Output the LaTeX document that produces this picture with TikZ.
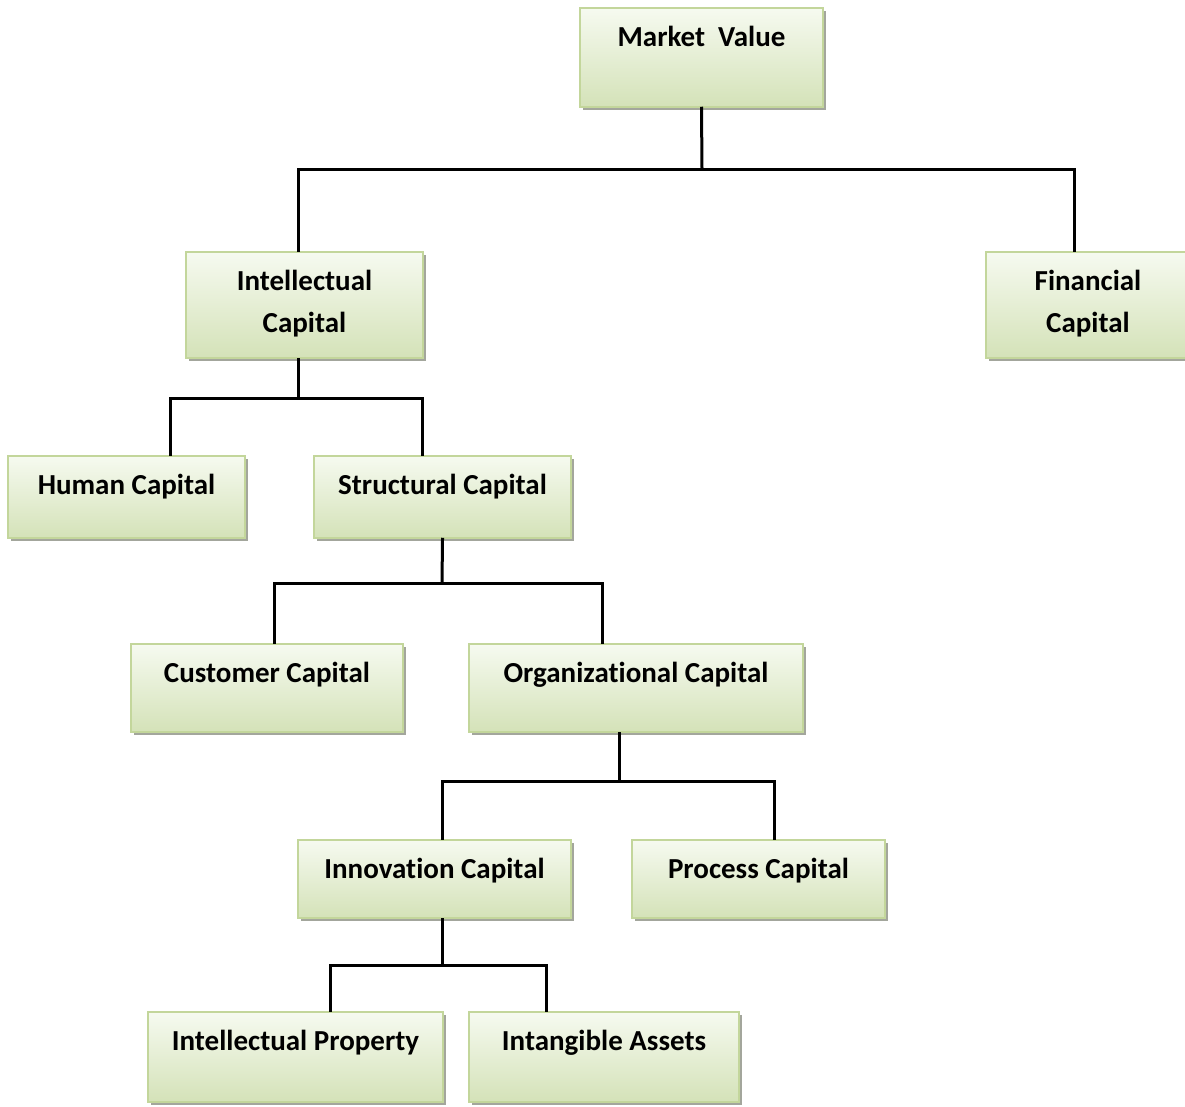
\documentclass[tikz,border=0pt]{standalone}
\usepackage{fontspec}
\setmainfont{Carlito}[RawFeature=-liga]
\usetikzlibrary{fit}
\definecolor{boxedge}{HTML}{C3D69B}
\definecolor{boxtop}{HTML}{F6FAF0}
\definecolor{boxbot}{HTML}{D4E2B8}
\definecolor{boxshade}{HTML}{A3A69C}
\tikzset{
  capbox/.style={draw=boxedge, line width=2.5pt, top color=boxtop, bottom color=boxbot,
                 inner sep=0pt},
  lbl/.style={font=\bfseries\fontsize{29}{42}\selectfont, align=center, inner sep=0pt,
              anchor=base},
  link/.style={line width=3pt, line join=miter, line cap=rect}
}
% name, x1, y1, x2, y2, baseline of last text line below the box top, text
\newcommand\capnode[7]{%
  \fill[boxshade] (#2+3,#3+3) rectangle (#4+3,#5+3);
  \node[capbox, fit={(#2,#3) (#4,#5)}] (#1) {};
  \node[lbl] (#1-t) at ([yshift=-#6pt]#1.north) {#7};
}
\begin{document}
\begin{tikzpicture}[x=1pt, y=-1pt]
\useasboundingbox (0,0) rectangle (1185,1106);
\fill[white] (0,0) rectangle (1185,1106);

\capnode{mv}{580}{8}{823}{107}{40}{Market\ \ Value}
\capnode{ic}{186}{252}{423}{358}{82}{Intellectual\\Capital}
\capnode{fc}{986}{252}{1190}{358}{82}{Financial\\Capital}
\capnode{hc}{8}{456}{245}{538}{40}{Human Capital}
\capnode{sc}{314}{456}{571}{538}{40}{Structural Capital}
\capnode{cc}{131}{644}{403}{732}{40}{Customer Capital}
\capnode{oc}{469}{644}{803}{732}{40}{Organizational Capital}
\capnode{inn}{298}{840}{571}{918}{40}{Innovation Capital}
\capnode{pc}{632}{840}{885}{918}{40}{Process Capital}
\capnode{ip}{148}{1012}{443}{1102}{40}{Intellectual Property}
\capnode{ia}{469}{1012}{739}{1102}{40}{Intangible Assets}

% junction points of the tree
\coordinate (j1) at (702,169);
\coordinate (j2) at (298,398);
\coordinate (j3) at (442,583);
\coordinate (j4) at (619,781);
\coordinate (j5) at (442,965);

\draw[link] (mv.south) -- (j1);
\draw[link] ([xshift=-6.5pt]ic.north) |- (j1) -| ([xshift=-14pt]fc.north);

\draw[link] ([xshift=-6.5pt]ic.south) -- (j2);
\draw[link] ([xshift=43.5pt]hc.north) |- (j2) -| ([xshift=-20.5pt]sc.north);

\draw[link] (sc.south) -- (j3);
\draw[link] ([xshift=7pt]cc.north) |- (j3) -| ([xshift=-34pt]oc.north);

\draw[link] ([xshift=-17pt]oc.south) -- (j4);
\draw[link] ([xshift=7.5pt]inn.north) |- (j4) -| ([xshift=15.5pt]pc.north);

\draw[link] ([xshift=7.5pt]inn.south) -- (j5);
\draw[link] ([xshift=34.5pt]ip.north) |- (j5) -| ([xshift=-58pt]ia.north);
\end{tikzpicture}
\end{document}
